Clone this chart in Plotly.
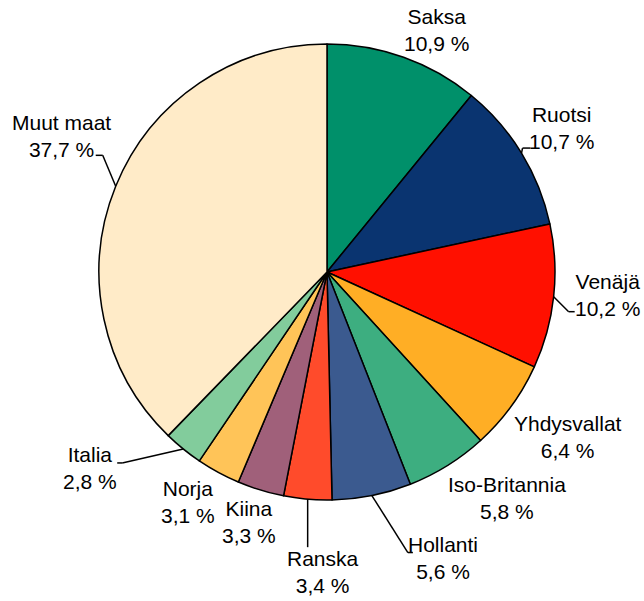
import math
import plotly.graph_objects as go

# ---- data ----
countries = ["Saksa", "Ruotsi", "Venäjä", "Yhdysvallat", "Iso-Britannia", "Hollanti",
             "Ranska", "Kiina", "Norja", "Italia", "Muut maat"]
shares = [10.9, 10.7, 10.2, 6.4, 5.8, 5.6, 3.4, 3.3, 3.1, 2.8, 37.7]

# ---- styles ----
colors = ["#00906A", "#0A3470", "#FF1000", "#FFAE25", "#3DAE80", "#3B5A8F",
          "#FF4B2B", "#A0607A", "#FFC458", "#82CC9C", "#FFEBC8"]
# label block offset (px) from slice mid-edge point
label_off = [(33, -27), (40, -25), (54, -2), (57, 31), (60, 32), (71, 62),
             (15, 73), (-12, 32), (-30, 30), (-93, 19), (-54, -50)]
# leader elbow offset and horizontal tail (px), None = no leader
leader = [None, ((1, -5), 8), ((15, 15), 6), None, None, ((36, 57), 5),
          ((0, 48), 0), None, None, ((-61, 14), -5), ((-13, -31), -7)]

W, H = 644, 601
CX, CY, R = 327, 272, 228

fig = go.Figure(go.Pie(
    labels=countries, values=shares, sort=False, direction="clockwise", rotation=0,
    marker=dict(colors=colors, line=dict(color="black", width=1.5)),
    textinfo="none", hoverinfo="label+percent", showlegend=False,
    domain=dict(x=[(CX - R) / W, (CX + R) / W], y=[1 - (CY + R) / H, 1 - (CY - R) / H]),
))

total = sum(shares)
cum = 0.0
shapes, annotations = [], []
for i, (name, v) in enumerate(zip(countries, shares)):
    mid = (cum + v / 2) / total
    cum += v
    th = 2 * math.pi * mid
    ex, ey = CX + R * math.sin(th), CY - R * math.cos(th)
    lx, ly = ex + label_off[i][0], ey + label_off[i][1]
    pct = f"{v:.1f}".replace(".", ",") + " %"
    annotations.append(dict(
        x=lx / W, y=1 - ly / H, xref="paper", yref="paper", showarrow=False,
        text=f"{name}<br>{pct}", xanchor="center", yanchor="middle", align="center",
        font=dict(family="Liberation Sans, Arial, sans-serif", size=21, color="black")))
    if leader[i] is not None:
        (bx, by), tail = leader[i]
        px, py = ex + bx, ey + by
        shapes.append(dict(type="line", xref="paper", yref="paper",
                           x0=ex / W, y0=1 - ey / H, x1=px / W, y1=1 - py / H,
                           line=dict(color="black", width=1.5)))
        if tail:
            shapes.append(dict(type="line", xref="paper", yref="paper",
                               x0=px / W, y0=1 - py / H, x1=(px + tail) / W, y1=1 - py / H,
                               line=dict(color="black", width=1.5)))

fig.update_layout(width=W, height=H, margin=dict(l=0, r=0, t=0, b=0),
                  paper_bgcolor="white", plot_bgcolor="white",
                  shapes=shapes, annotations=annotations)
fig.write_html("out.html", config={"displayModeBar": False},
               post_script="document.body.style.margin='0';")
